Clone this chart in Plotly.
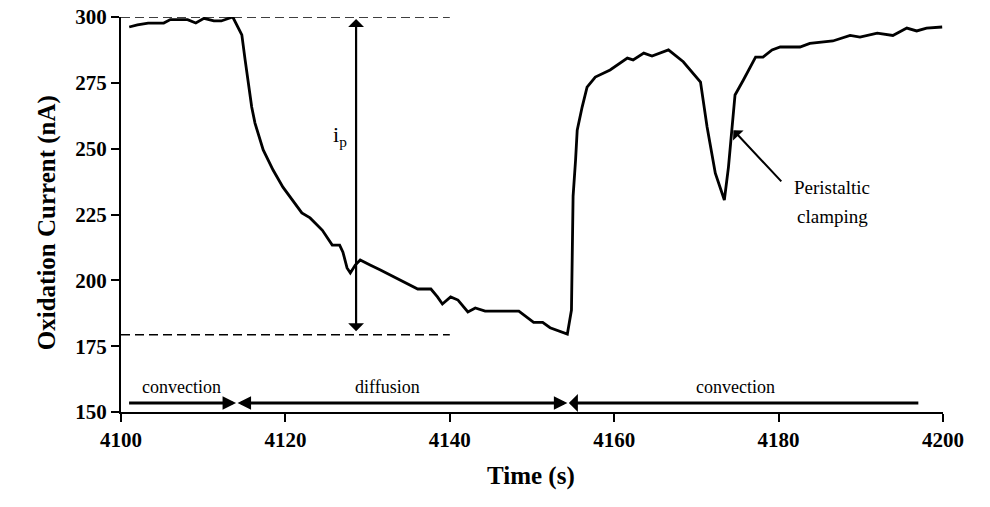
import plotly.graph_objects as go

time_s = [4101, 4102, 4103.3, 4105.2, 4106, 4108.1, 4109.1, 4110.1, 4111.3, 4112.2, 4113.6,
          4114.7, 4115.1, 4115.5, 4115.9, 4116.3, 4117.3, 4118.5, 4119.7, 4122, 4123, 4124.5,
          4125.7, 4126.6, 4127, 4127.5, 4127.9, 4128.5, 4129.1, 4130.3, 4131.5, 4136.1, 4137.7,
          4138.5, 4139.1, 4140.1, 4141, 4142.2, 4143.1, 4144.3, 4148.4, 4150.2, 4151.3, 4152.2,
          4154.3, 4154.8, 4155.0, 4155.3, 4155.5, 4156.1, 4156.7, 4157.7, 4159.5, 4161.6, 4162.3,
          4163.6, 4164.6, 4166.6, 4168.4, 4170.5, 4171.3, 4172.3, 4173.4, 4173.9, 4174.4, 4174.7,
          4175.7, 4177.2, 4178.1, 4179.2, 4180.2, 4182.6, 4183.8, 4186.6, 4188.7, 4189.9, 4192,
          4193.9, 4195.6, 4196.8, 4198, 4199.9]
current_nA = [296.2, 297, 297.7, 297.7, 299, 299, 297.7, 299.5, 298.5, 298.5, 300,
              293.2, 283.7, 275, 265.8, 259.7, 249.5, 241.9, 235.4, 225.6, 223.7, 219,
              213.4, 213.4, 210.7, 204.7, 202.8, 205.8, 207.7, 205.8, 204, 196.7, 196.7,
              193.7, 191, 193.7, 192.5, 188, 189.5, 188.3, 188.3, 184, 184, 182,
              179.6, 188.7, 232, 245.7, 257, 265.8, 273.4, 277.2, 279.9, 284.4, 283.7,
              286.3, 285.2, 287.5, 283, 275.3, 258.2, 240.7, 230.5, 243, 260.9, 270.4,
              276, 284.8, 284.8, 287.5, 288.6, 288.6, 290, 290.9, 293, 292.4, 293.9,
              293, 295.8, 294.7, 295.8, 296.2]

x_ticks = [4100, 4120, 4140, 4160, 4180, 4200]
y_ticks = [150, 175, 200, 225, 250, 275, 300]

# i_p marker
ip_top = 300
ip_bottom = 179.3
ip_time = 4128.6
ip_dash_end = 4140

# phase bars
phase_y = 153.4
phase_bounds = [4100.8, 4114, 4154.3, 4197]
phase_labels = ["convection", "diffusion", "convection"]
phase_label_x = [4107.3, 4132.4, 4174.7]
phase_label_y = 159.5

clamp_tip = (4174.5, 257)
clamp_tail = (4180.5, 237)
clamp_text_x = 4186.5
clamp_text_lines = ["Peristaltic", "clamping"]
clamp_text_y = [235.2, 224.2]

serif = "Liberation Serif, Times New Roman, serif"

fig = go.Figure()
fig.add_trace(go.Scatter(x=time_s, y=current_nA, mode="lines",
                         line=dict(color="black", width=2.8), showlegend=False,
                         hoverinfo="skip"))

# dashed reference lines
for yv in (ip_top, ip_bottom):
    fig.add_shape(type="line", xref="x", yref="y", x0=4100, x1=ip_dash_end, y0=yv, y1=yv,
                  line=dict(color="black", width=1.5, dash="9px,5px"))

ann = []
# i_p double arrow
ann.append(dict(x=ip_time, y=ip_top - 0.8, ax=ip_time, ay=ip_bottom + 0.8, xref="x", yref="y",
                axref="x", ayref="y", text="", showarrow=True, arrowhead=1, arrowside="end+start",
                arrowwidth=2.2, arrowsize=1.2, arrowcolor="black", standoff=0, startstandoff=0))
ann.append(dict(x=4126.7, y=255, xref="x", yref="y", text="i<sub>p</sub>", showarrow=False,
                font=dict(family=serif, size=22, color="black")))

# phase arrows
ann.append(dict(x=phase_bounds[1], y=phase_y, ax=phase_bounds[0], ay=phase_y, xref="x", yref="y",
                axref="x", ayref="y", text="", showarrow=True, arrowhead=2, arrowside="end",
                arrowwidth=3, arrowsize=0.9, arrowcolor="black", standoff=0, startstandoff=0))
ann.append(dict(x=phase_bounds[2], y=phase_y, ax=phase_bounds[1], ay=phase_y, xref="x", yref="y",
                axref="x", ayref="y", text="", showarrow=True, arrowhead=2, arrowside="end+start",
                arrowwidth=3, arrowsize=0.9, arrowcolor="black", standoff=0, startstandoff=0))
ann.append(dict(x=phase_bounds[3], y=phase_y, ax=phase_bounds[2], ay=phase_y, xref="x", yref="y",
                axref="x", ayref="y", text="", showarrow=True, arrowhead=2, arrowside="start",
                arrowwidth=3, arrowsize=0.9, arrowcolor="black", standoff=0, startstandoff=0))
for lx, lt in zip(phase_label_x, phase_labels):
    ann.append(dict(x=lx, y=phase_label_y, xref="x", yref="y", text=lt, showarrow=False,
                    xanchor="center", yanchor="middle",
                    font=dict(family=serif, size=18, color="black")))

# peristaltic clamping
ann.append(dict(x=clamp_tip[0], y=clamp_tip[1], ax=clamp_tail[0], ay=clamp_tail[1], xref="x", yref="y",
                axref="x", ayref="y", text="", showarrow=True, arrowhead=1, arrowwidth=2,
                arrowsize=1.2, arrowcolor="black", standoff=0))
for ty, tt in zip(clamp_text_y, clamp_text_lines):
    ann.append(dict(x=clamp_text_x, y=ty, xref="x", yref="y", text=tt, showarrow=False,
                    xanchor="center", yanchor="middle",
                    font=dict(family=serif, size=19, color="black")))

# axis titles
ann.append(dict(x=-0.09, y=0.478, xref="paper", yref="paper", text="<b>Oxidation Current (nA)</b>",
                textangle=-90, showarrow=False, xanchor="center", yanchor="middle",
                font=dict(family=serif, size=25, color="black")))
ann.append(dict(x=0.499, y=-0.162, xref="paper", yref="paper", text="<b>Time (s)</b>",
                showarrow=False, xanchor="center", yanchor="middle",
                font=dict(family=serif, size=25, color="black")))

fig.update_layout(
    width=990, height=507,
    margin=dict(l=113, r=55, t=9, b=103),
    plot_bgcolor="white", paper_bgcolor="white",
    annotations=ann,
    showlegend=False,
)
fig.update_xaxes(range=[4100, 4200], tickvals=x_ticks, ticktext=[f"<b>{v}</b>" for v in x_ticks],
                 showline=True, linecolor="black", linewidth=2, ticks="outside", ticklen=8,
                 tickwidth=2, tickcolor="black", showgrid=False, zeroline=False, automargin=False,
                 ticklabeloverflow="allow",
                 tickfont=dict(family=serif, size=21, color="black"))
fig.update_yaxes(range=[150, 300], tickvals=y_ticks, ticktext=[f"<b>{v}</b>" for v in y_ticks],
                 showline=True, linecolor="black", linewidth=2, ticks="outside", ticklen=8,
                 tickwidth=2, tickcolor="black", showgrid=False, zeroline=False, automargin=False,
                 ticklabeloverflow="allow",
                 tickfont=dict(family=serif, size=21, color="black"))

fig.write_html("out.html")
